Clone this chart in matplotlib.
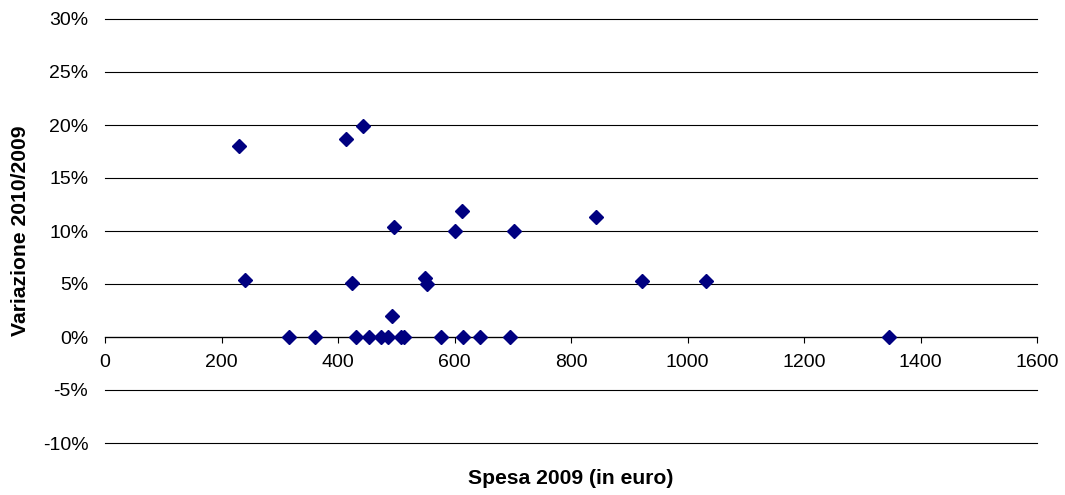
import matplotlib.pyplot as plt
from matplotlib.ticker import FuncFormatter, MultipleLocator

plt.rcParams['font.family'] = ['Liberation Sans', 'DejaVu Sans']

# Spending in 2009 (euro) and change 2010/2009 (%)
spesa_2009 = [230, 414, 443, 496, 601, 613, 702, 843,
              240, 424, 549, 553, 922, 1032, 493,
              316, 360, 431, 453, 474, 486, 508, 514, 577, 615, 644, 695, 1346]
variazione = [18.0, 18.7, 19.9, 10.4, 10.0, 11.9, 10.0, 11.3,
              5.4, 5.1, 5.6, 5.0, 5.3, 5.3, 2.0,
              0, 0, 0, 0, 0, 0, 0, 0, 0, 0, 0, 0, 0]

fig = plt.figure(figsize=(10.65, 4.95), dpi=100)
ax = fig.add_axes([105 / 1065, 1 - 443 / 495, 932 / 1065, 424 / 495])

ax.plot(spesa_2009, variazione, linestyle='none', marker='D', ms=7.2,
        color='#000080', zorder=3, clip_on=False)

ax.set_xlim(0, 1600)
ax.set_ylim(-10, 30)
ax.xaxis.set_major_locator(MultipleLocator(200))
ax.yaxis.set_major_locator(MultipleLocator(5))
ax.yaxis.set_major_formatter(FuncFormatter(lambda v, p: f"{v:.0f}%"))

# horizontal grid, x axis crossing at 0%
ax.grid(axis='y', color='black', linewidth=0.8)
for line in ax.get_ygridlines():
    line.set_clip_on(False)
for s in ['top', 'right', 'left']:
    ax.spines[s].set_visible(False)
ax.spines['bottom'].set_position(('data', 0))
ax.spines['bottom'].set_linewidth(0.9)
ax.spines['bottom'].set_zorder(2)

ax.tick_params(axis='y', length=0, pad=12, labelsize=14)
ax.tick_params(axis='x', direction='out', length=4.5, width=0.8,
               pad=8, labelsize=14)

ax.set_xlabel('Spesa 2009 (in euro)', fontsize=15.2, fontweight='bold')
ax.xaxis.set_label_coords(0.5, -0.062)
ax.set_ylabel('Variazione 2010/2009', fontsize=15.2, fontweight='bold')
ax.yaxis.set_label_coords(-0.080, 0.5)

fig.savefig('out.png', dpi=100)
